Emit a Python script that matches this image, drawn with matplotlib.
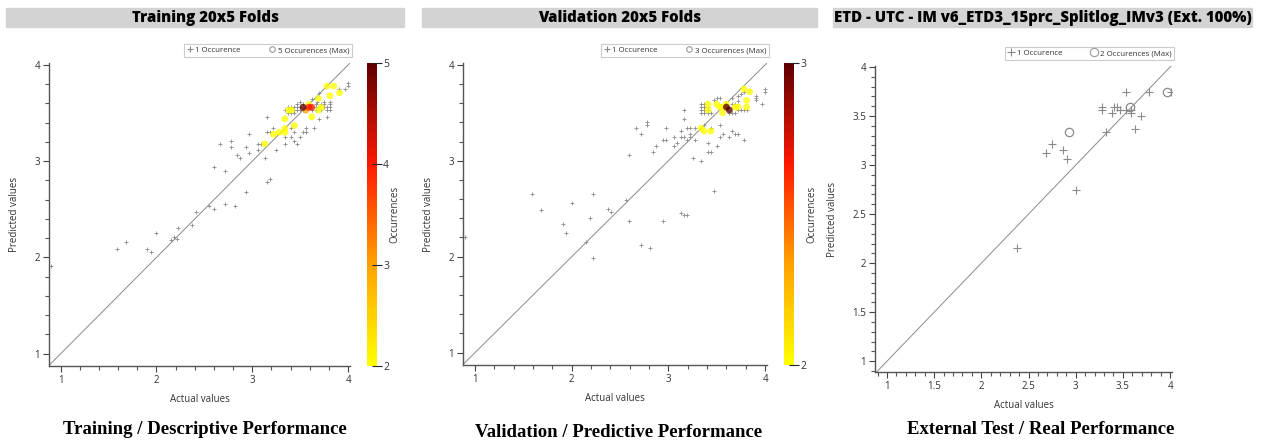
import matplotlib.pyplot as plt
from matplotlib.colors import LinearSegmentedColormap, Normalize
from matplotlib.cm import ScalarMappable
from matplotlib.lines import Line2D
from matplotlib.patches import Rectangle
from matplotlib.ticker import MultipleLocator, FormatStrFormatter

plt.rcParams['font.family'] = ['Open Sans', 'DejaVu Sans']

# ---- Training 20x5 folds: single occurrences ----
train_x = [0.90, 1.59, 1.68, 1.90, 1.94, 2.00, 2.15, 2.18, 2.21, 2.22, 2.37, 2.41, 2.55, 2.60,
           2.60, 2.66, 2.72, 2.72, 2.78, 2.78, 2.82, 2.84, 2.87, 2.93, 2.93, 2.97, 2.97, 3.06,
           3.06, 3.09, 3.13, 3.15, 3.15, 3.18, 3.15, 3.18, 3.22, 3.25, 3.34, 3.34, 3.40, 3.40,
           3.44, 3.44, 3.47, 3.50, 3.53, 3.56, 3.56, 3.64, 3.70, 3.62, 3.70, 3.78, 3.81, 3.91,
           3.97, 4.00, 4.00, 3.81, 3.75,
           3.47, 3.53, 3.66, 3.72, 3.75,
           3.37, 3.40, 3.44, 3.47, 3.50, 3.66, 3.69, 3.75, 3.78, 3.81,
           3.34, 3.44, 3.47, 3.50, 3.53, 3.62, 3.66, 3.72, 3.78, 3.81,
           3.37, 3.40, 3.44, 3.50, 3.68]
train_y = [1.91, 2.09, 2.16, 2.09, 2.06, 2.25, 2.18, 2.21, 2.19, 2.31, 2.34, 2.47, 2.53, 2.50,
           2.94, 3.18, 2.90, 2.56, 3.21, 3.15, 2.53, 3.06, 3.03, 3.15, 2.68, 3.28, 3.09, 3.12,
           3.18, 3.18, 3.03, 3.46, 2.78, 2.81, 3.30, 3.30, 3.34, 3.12, 3.25, 3.18, 3.34, 3.25,
           3.21, 3.30, 3.18, 3.25, 3.30, 3.34, 3.30, 3.34, 3.44, 3.65, 3.71, 3.46, 3.62, 3.75,
           3.75, 3.81, 3.78, 3.59, 3.62,
           3.59, 3.59, 3.59, 3.59, 3.59,
           3.56, 3.56, 3.56, 3.56, 3.56, 3.56, 3.56, 3.56, 3.56, 3.56,
           3.53, 3.53, 3.53, 3.53, 3.53, 3.53, 3.53, 3.53, 3.53, 3.53,
           3.50, 3.50, 3.50, 3.62, 3.62]
# several occurrences
train_mx = [3.13, 3.22, 3.28, 3.34, 3.34, 3.34, 3.38, 3.41, 3.44, 3.59, 3.62, 3.69, 3.72,
            3.69, 3.78, 3.85, 3.81, 3.91, 3.56, 3.59, 3.62, 3.53]
train_my = [3.18, 3.28, 3.30, 3.34, 3.30, 3.44, 3.53, 3.53, 3.37, 3.59, 3.46, 3.53, 3.56,
            3.65, 3.78, 3.78, 3.68, 3.71, 3.53, 3.56, 3.56, 3.56]
train_mn = [2, 2, 2, 2, 2, 2, 2, 2, 2, 2, 2, 2, 2,
            2, 2, 2, 2, 2, 3, 4, 4, 5]

# ---- Validation 20x5 folds: single occurrences ----
val_x = [0.90, 1.59, 1.68, 1.91, 1.94, 2.00, 2.15, 2.19, 2.22, 2.22, 2.38, 2.41, 2.56, 2.59,
         2.59, 2.66, 2.72, 2.72, 2.78, 2.78, 2.81, 2.84, 2.87, 2.94, 2.94, 2.97, 2.97, 3.06,
         3.06, 3.09, 3.13, 3.13, 3.13, 3.16, 3.19, 3.16, 3.16, 3.16, 3.19, 3.19, 3.22, 3.22,
         3.22, 3.28, 3.25, 3.28, 3.34, 3.37, 3.41, 3.41, 3.44, 3.44, 3.47, 3.50, 3.53, 3.53,
         3.56, 3.63, 3.66, 3.69, 3.72, 3.78, 3.91, 3.91, 3.91, 3.97, 4.00, 4.00,
         3.34, 3.37, 3.34, 3.37, 3.41, 3.34, 3.37, 3.41, 3.34, 3.37, 3.41, 3.44,
         3.47, 3.50, 3.53,
         3.63, 3.66, 3.69, 3.72, 3.75, 3.78, 3.81, 3.66, 3.69, 3.72, 3.66, 3.72, 3.75, 3.78]
val_y = [2.21, 2.65, 2.49, 2.34, 2.25, 2.56, 2.15, 2.40, 2.65, 1.99, 2.50, 2.47, 2.59, 2.37,
         3.06, 3.34, 2.12, 3.28, 3.40, 3.37, 2.09, 3.09, 3.15, 2.37, 3.22, 3.22, 3.34, 3.15,
         3.25, 3.19, 3.31, 3.25, 2.46, 2.43, 2.43, 3.25, 3.44, 3.53, 3.22, 3.34, 3.34, 3.28,
         3.25, 3.22, 3.03, 3.34, 3.00, 3.37, 3.19, 3.09, 3.09, 3.34, 2.68, 3.15, 3.25, 3.37,
         3.28, 3.25, 3.31, 3.28, 3.28, 3.22, 3.68, 3.66, 3.63, 3.59, 3.75, 3.72,
         3.59, 3.59, 3.56, 3.56, 3.56, 3.53, 3.53, 3.53, 3.50, 3.50, 3.50, 3.50,
         3.63, 3.65, 3.65,
         3.50, 3.50, 3.50, 3.53, 3.53, 3.53, 3.53, 3.59, 3.59, 3.62, 3.65, 3.68, 3.70, 3.72]
val_mx = [3.34, 3.37, 3.44, 3.41, 3.41, 3.50, 3.53, 3.56, 3.56, 3.60, 3.69, 3.72, 3.78,
          3.84, 3.81, 3.81, 3.60, 3.63]
val_my = [3.34, 3.31, 3.31, 3.59, 3.53, 3.59, 3.56, 3.56, 3.50, 3.59, 3.56, 3.56, 3.75,
          3.72, 3.63, 3.56, 3.56, 3.53]
val_mn = [2, 2, 2, 2, 2, 2, 2, 2, 2, 2, 2, 2, 2,
          2, 2, 2, 3, 3]

# ---- External test ----
ext_x = [2.38, 2.69, 2.75, 2.87, 2.91, 3.00, 3.28, 3.28, 3.32, 3.38, 3.41, 3.44, 3.47, 3.53,
         3.53, 3.59, 3.59, 3.63, 3.69, 3.78, 4.01]
ext_y = [2.15, 3.12, 3.21, 3.15, 3.06, 2.75, 3.59, 3.56, 3.34, 3.53, 3.59, 3.59, 3.56, 3.74,
         3.56, 3.56, 3.53, 3.37, 3.50, 3.74, 3.74]
ext_mx = [2.93, 3.57, 3.97]
ext_my = [3.34, 3.59, 3.74]

occ_cmap = LinearSegmentedColormap.from_list(
    'occ', ['#ffff00', '#ffa200', '#ff1800', '#5c0000'])

fig = plt.figure(figsize=(12.62, 4.44), dpi=100)
W, H = 1262.0, 444.0


def box(x0, y0, x1, y1):
    # pixel box (top-left origin) -> figure fraction rect
    return [x0 / W, 1 - y1 / H, (x1 - x0) / W, (y1 - y0) / H]


def style_axes(ax, xlim, ylim, major, minor):
    ax.set_xlim(xlim)
    ax.set_ylim(ylim)
    ax.plot([0, 5], [0, 5], color='#8a8a8a', lw=0.7, zorder=1)
    for s in ['top', 'right']:
        ax.spines[s].set_visible(False)
    for s in ['left', 'bottom']:
        ax.spines[s].set_color('#555555')
        ax.spines[s].set_linewidth(1.0)
    ax.xaxis.set_major_locator(MultipleLocator(major))
    ax.yaxis.set_major_locator(MultipleLocator(major))
    ax.xaxis.set_minor_locator(MultipleLocator(minor))
    ax.yaxis.set_minor_locator(MultipleLocator(minor))
    ax.xaxis.set_major_formatter(FormatStrFormatter('%g'))
    ax.yaxis.set_major_formatter(FormatStrFormatter('%g'))
    ax.tick_params(which='major', direction='out', length=4.5, width=0.8, color='#444444',
                   labelsize=7, labelcolor='#333333', pad=2)
    ax.tick_params(which='minor', direction='out', length=3, width=0.8, color='#555555')
    ax.set_xlabel('Actual values', fontsize=7, color='#333333', labelpad=6)
    ax.set_ylabel('Predicted values', fontsize=7, color='#333333', labelpad=10)


def add_legend(ax, max_label, big):
    ms = 6 if big else 4
    h1 = Line2D([], [], marker='+', ls='none', color='#888888', ms=ms, mew=0.8,
                label='1 Occurence')
    h2 = Line2D([], [], marker='o', ls='none', mfc='none', mec='#999999', ms=ms,
                mew=0.8, label=max_label)
    leg = ax.legend(handles=[h1, h2], ncol=2, loc='lower right', bbox_to_anchor=(1.007, 1.02),
                    fontsize=5.7, frameon=True, fancybox=False, edgecolor='#cccccc',
                    framealpha=1, borderpad=0.35, handlelength=0.8, handletextpad=0.3,
                    columnspacing=3.6, borderaxespad=0)
    leg.get_frame().set_linewidth(0.8)
    for t in leg.get_texts():
        t.set_color('#333333')


def add_colorbar(rect, vmax, label_px):
    cax = fig.add_axes(rect)
    sm = ScalarMappable(norm=Normalize(2, vmax), cmap=occ_cmap)
    cb = fig.colorbar(sm, cax=cax, ticks=list(range(2, vmax + 1)))
    cb.outline.set_visible(False)
    cax.tick_params(direction='inout', length=7, width=0.8, color='#222222', labelsize=7.5,
                    labelcolor='#333333', pad=1)
    fig.text(label_px / W, 1 - 214 / H, 'Occurrences', rotation=90, fontsize=7,
             color='#333333', ha='center', va='center')


def title_bar(x0, x1, text):
    fig.patches.append(Rectangle((x0 / W, 1 - 27.5 / H), (x1 - x0) / W, 19 / H,
                                 transform=fig.transFigure, color='#d3d3d3', zorder=0))
    fig.text((x0 + x1) / 2 / W, 1 - 18 / H, text, ha='center', va='center', fontsize=10.8,
             fontweight='heavy', color='#000000')


# Panel 1: training
title_bar(6, 404, 'Training 20x5 Folds')
ax1 = fig.add_axes(box(49, 63, 350, 366))
style_axes(ax1, (0.878, 4.02), (0.872, 4.02), 1, 0.2)
ax1.plot(train_x, train_y, '+', color='#8c8c8c', ms=2.8, mew=0.6, zorder=2)
ax1.scatter(train_mx, train_my, c=train_mn, cmap=occ_cmap, vmin=2, vmax=5, s=24,
            alpha=0.78, edgecolors='none', zorder=3)
add_legend(ax1, '5 Occurences (Max)', False)
add_colorbar(box(367, 63, 377, 366), 5, 395)

# Panel 2: validation
title_bar(422, 817, 'Validation 20x5 Folds')
ax2 = fig.add_axes(box(463, 63, 767, 365))
style_axes(ax2, (0.875, 4.02), (0.87, 4.02), 1, 0.2)
ax2.plot(val_x, val_y, '+', color='#8c8c8c', ms=2.8, mew=0.6, zorder=2)
ax2.scatter(val_mx, val_my, c=val_mn, cmap=occ_cmap, vmin=2, vmax=3, s=24,
            alpha=0.78, edgecolors='none', zorder=3)
add_legend(ax2, '3 Occurences (Max)', False)
add_colorbar(box(784, 63, 794, 365), 3, 812)

# Panel 3: external test
title_bar(833, 1252, 'ETD - UTC - IM v6_ETD3_15prc_Splitlog_IMv3 (Ext. 100%)')
ax3 = fig.add_axes(box(875, 66, 1172, 372))
style_axes(ax3, (0.873, 4.02), (0.89, 4.01), 0.5, 0.1)
ax3.plot(ext_x, ext_y, '+', color='#8a8a8a', ms=6, mew=0.8, zorder=2)
ax3.plot(ext_mx, ext_my, 'o', mfc='none', mec='#8a8a8a', ms=6, mew=0.9, zorder=3)
add_legend(ax3, '2 Occurences (Max)', True)

# Captions under each panel
captions = ['Training / Descriptive Performance', 'Validation / Predictive Performance',
            'External Test / Real Performance']
cap_x = [205, 619, 1041]
cap_y = [429, 432, 429]
for c, cx, cy in zip(captions, cap_x, cap_y):
    fig.text(cx / W, 1 - cy / H, c, ha='center', va='center', fontsize=13.5,
             fontweight='bold', family='Liberation Serif')

fig.savefig('out.png', dpi=100)
